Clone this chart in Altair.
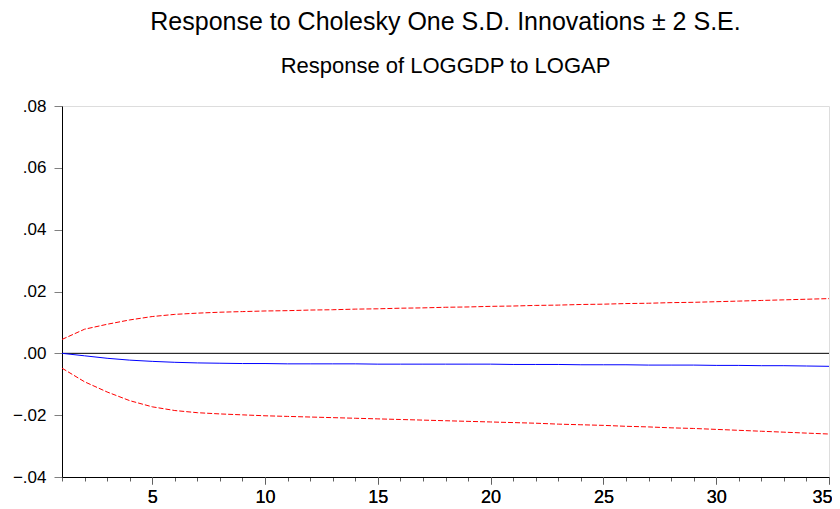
import altair as alt
import pandas as pd

periods = list(range(1, 36))
response = [0.0000, -0.0008, -0.0016, -0.0022, -0.0026, -0.0029, -0.0031, -0.0032, -0.0033, -0.0033,
            -0.0034, -0.0034, -0.0034, -0.0034, -0.0035, -0.0035, -0.0035, -0.0035, -0.0035, -0.0035,
            -0.0036, -0.0036, -0.0036, -0.0037, -0.0037, -0.0037, -0.0038, -0.0038, -0.0038, -0.0039,
            -0.0039, -0.0040, -0.0040, -0.0041, -0.0042]
upper = [0.0045, 0.0078, 0.0094, 0.0108, 0.0119, 0.0126, 0.0130, 0.0133, 0.0135, 0.0137,
         0.0138, 0.0140, 0.0141, 0.0143, 0.0144, 0.0146, 0.0147, 0.0149, 0.0150, 0.0152,
         0.0153, 0.0155, 0.0156, 0.0158, 0.0159, 0.0161, 0.0162, 0.0164, 0.0165, 0.0167,
         0.0169, 0.0171, 0.0173, 0.0175, 0.0177]
lower = [-0.0048, -0.0092, -0.0125, -0.0153, -0.0173, -0.0185, -0.0192, -0.0196, -0.0199, -0.0202,
         -0.0204, -0.0206, -0.0208, -0.0210, -0.0212, -0.0214, -0.0216, -0.0218, -0.0220, -0.0222,
         -0.0224, -0.0226, -0.0229, -0.0231, -0.0233, -0.0236, -0.0238, -0.0241, -0.0243, -0.0246,
         -0.0249, -0.0252, -0.0255, -0.0258, -0.0261]
y_ticks = [-0.04, -0.02, 0.0, 0.02, 0.04, 0.06, 0.08]
x_label_ticks = [5, 10, 15, 20, 25, 30, 35]

df = pd.DataFrame({"period": periods, "response": response, "upper": upper, "lower": lower})
zero_df = pd.DataFrame({"zero": [0.0]})

FONT = "Liberation Sans"

x_scale = alt.Scale(domain=[1, 35], nice=False, zero=False)
y_scale = alt.Scale(domain=[-0.04, 0.08], nice=False)

y_axis = alt.Axis(values=y_ticks, labelExpr="replace(format(datum.value, '.2f'), '0.', '.')",
                  grid=False, tickSize=8, tickColor="#808080", domainColor="black",
                  labelPadding=8, labelFontSize=17, labelFont=FONT, labelColor="black", title=None)

x_minor = alt.Axis(values=periods, labels=False, grid=False, tickSize=4, tickColor="#606060",
                   domainColor="black", orient="bottom", title=None)
x_major = alt.Axis(values=x_label_ticks, grid=False, tickSize=7, tickColor="#606060",
                   domain=False, orient="bottom", labelPadding=4, labelFontSize=18,
                   labelFont=FONT, labelColor="black", title=None,
                   labelFlush=True, labelFlushOffset=3)

base = alt.Chart(df)

minor_layer = base.mark_line(color="#0000FF", strokeWidth=1).encode(
    x=alt.X("period:Q", scale=x_scale, axis=x_minor),
    y=alt.Y("response:Q", scale=y_scale, axis=y_axis),
)
upper_layer = base.mark_line(color="#FF0000", strokeWidth=1, strokeDash=[5, 2]).encode(
    x=alt.X("period:Q", scale=x_scale, axis=x_major),
    y=alt.Y("upper:Q", scale=y_scale, axis=y_axis),
)
lower_layer = base.mark_line(color="#FF0000", strokeWidth=1, strokeDash=[5, 2]).encode(
    x=alt.X("period:Q", scale=x_scale, axis=x_major),
    y=alt.Y("lower:Q", scale=y_scale, axis=y_axis),
)
zero_layer = alt.Chart(zero_df).mark_rule(color="black", strokeWidth=1).encode(
    y=alt.Y("zero:Q", scale=y_scale, axis=y_axis),
)

chart = alt.layer(zero_layer, minor_layer, upper_layer, lower_layer).resolve_axis(
    x="independent"
).resolve_scale(x="shared").properties(
    width=767,
    height=371,
    autosize=alt.AutoSizeParams(type="none"),
    padding={"left": 54, "top": 98, "right": 3, "bottom": 30},
    title=alt.TitleParams(
        text="Response to Cholesky One S.D. Innovations ± 2 S.E.",
        subtitle="Response of LOGGDP to LOGAP",
        anchor="middle",
        frame="group",
        font=FONT,
        fontSize=25,
        fontWeight="normal",
        color="black",
        subtitleFont=FONT,
        subtitleFontSize=22,
        subtitleColor="black",
        subtitlePadding=21,
        offset=20,
    ),
).configure_view(stroke="black", strokeWidth=1).configure(background="white")

chart.save("out.html", embed_options={"renderer": "svg", "actions": False})
